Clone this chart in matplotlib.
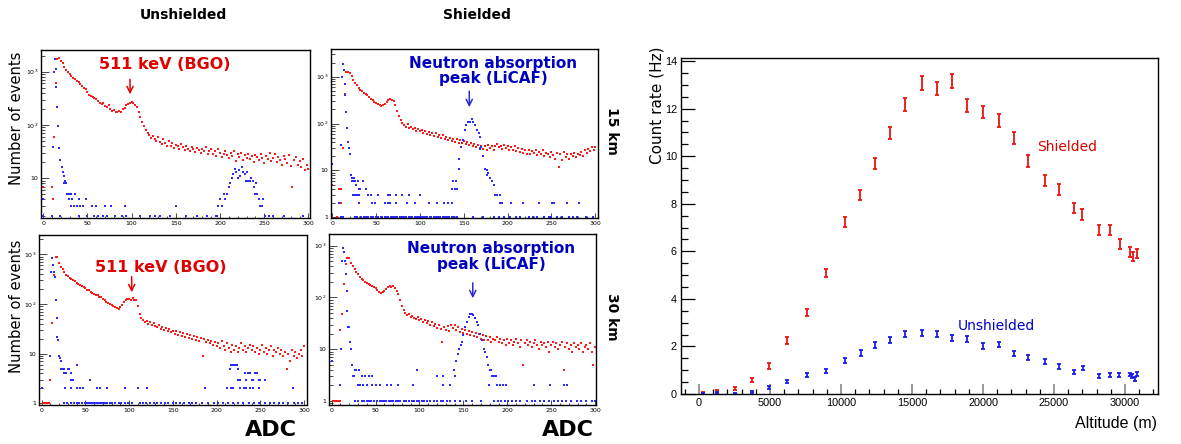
import matplotlib
matplotlib.use('Agg')
import matplotlib.pyplot as plt
from matplotlib.ticker import MultipleLocator, FixedLocator, LogLocator, FuncFormatter, NullFormatter
import numpy as np

# ---------------- spectra (ADC bins 10..300, step 2) ----------------
tl_red = [7, 60, 600, 1700, 1800, 1600, 1450, 1250, 1080, 980,
          900, 830, 770, 720, 670, 640, 590, 530, 500, 470,
          420, 370, 345, 330, 320, 310, 280, 262, 245, 258,
          228, 218, 232, 200, 182, 190, 172, 176, 185, 178,
          198, 210, 238, 252, 262, 275, 255, 238, 215, 172,
          140, 112, 95, 80, 70, 66, 58, 63, 54, 50,
          60, 48, 44, 55, 45, 41, 50, 40, 46, 37,
          43, 40, 36, 44, 38, 34, 41, 36, 33, 39,
          35, 31, 37, 34, 30, 36, 32, 38, 29, 33,
          35, 28, 32, 26, 36, 30, 25, 29, 33, 27,
          24, 30, 26, 32, 21, 28, 25, 30, 22, 27,
          24, 29, 23, 26, 20, 27, 25, 22, 28, 24,
          19, 26, 23, 30, 21, 24, 28, 20, 25, 22,
          18, 26, 23, 19, 27, 17, 7, 22, 25, 18,
          21, 16, 23, 14, 18, 15]
tr_red = [4, 30, 420, 1280, 1250, 1180, 1020, 870, 740, 650,
          580, 530, 490, 450, 430, 400, 375, 340, 315, 295,
          275, 258, 250, 243, 252, 265, 292, 318, 332, 325,
          305, 255, 185, 142, 118, 102, 94, 86, 96, 80,
          84, 75, 81, 70, 78, 68, 74, 63, 71, 60,
          66, 58, 64, 55, 62, 53, 58, 50, 56, 47,
          52, 45, 50, 43, 48, 41, 46, 39, 44, 38,
          42, 36, 40, 35, 38, 33, 37, 31, 35, 30,
          34, 29, 33, 28, 35, 30, 34, 28, 33, 36,
          31, 34, 29, 35, 30, 33, 27, 31, 28, 33,
          26, 30, 25, 29, 24, 27, 23, 28, 22, 26,
          24, 28, 21, 25, 22, 27, 20, 24, 23, 19,
          25, 21, 18, 24, 12, 22, 17, 25, 19, 23,
          18, 22, 20, 24, 19, 23, 21, 25, 20, 27,
          24, 29, 26, 31, 28, 32]
bl_red = [3, 41, 380, 900, 880, 680, 560, 500, 440, 385,
          360, 340, 320, 300, 285, 270, 255, 240, 225, 218,
          205, 195, 190, 178, 170, 160, 152, 148, 140, 135,
          128, 120, 112, 106, 100, 95, 90, 86, 82, 78,
          88, 95, 108, 118, 125, 128, 122, 130, 118, 122,
          90, 62, 52, 48, 44, 46, 40, 43, 38, 41,
          36, 34, 38, 31, 35, 30, 33, 28, 31, 27,
          29, 25, 28, 24, 27, 23, 26, 22, 25, 21,
          24, 20, 23, 19, 22, 18, 21, 9, 20, 17,
          19, 16, 18, 15, 17, 14, 16, 13, 18, 14,
          12, 16, 13, 11, 15, 12, 14, 11, 13, 16,
          12, 14, 11, 13, 15, 12, 14, 11, 13, 10,
          12, 15, 11, 13, 10, 12, 14, 9, 12, 11,
          13, 10, 12, 9, 11, 5, 10, 7, 12, 9,
          11, 8, 10, 12, 9, 14]
br_red = [24, 47, 180, 450, 590, 570, 460, 400, 350, 310,
          280, 250, 230, 215, 200, 190, 180, 172, 165, 160,
          150, 138, 128, 120, 125, 132, 148, 158, 165, 160,
          165, 150, 135, 115, 90, 70, 58, 50, 46, 48,
          42, 44, 40, 38, 42, 36, 38, 33, 36, 32,
          35, 30, 33, 28, 31, 26, 29, 25, 14, 27,
          24, 28, 23, 30, 26, 29, 24, 27, 22, 25,
          21, 24, 20, 23, 19, 22, 18, 21, 17, 20,
          16, 19, 15, 18, 15, 17, 14, 16, 15, 17,
          14, 16, 13, 15, 12, 16, 13, 15, 12, 14,
          16, 13, 11, 15, 5, 13, 15, 12, 14, 11,
          13, 15, 12, 10, 14, 12, 13, 11, 14, 9,
          12, 14, 11, 13, 10, 12, 14, 4, 11, 13,
          10, 12, 9, 13, 11, 12, 10, 13, 9, 11,
          12, 10, 13, 9, 5, 11]

tl_red_low = [(0, 7), (0, 4), (11, 4)]
tr_red_low = [(0, 5), (0, 1), (5, 1), (8, 4), (8, 2), (10, 2)]
bl_red_low = [(2, 1), (4, 1), (6, 1), (8, 1)]
br_red_low = [(2, 1), (4, 1), (6, 1), (8, 1), (10, 1)]

tl_blue = [(0, 4), (10, 2), (11, 38), (12, 1000), (13, 1700), (14, 1100), (15, 520), (16, 220),
           (17, 96), (18, 37), (19, 22), (21, 16), (22, 13), (23, 8), (24, 11), (25, 9), (26, 8),
           (27, 5), (28, 5), (29, 4), (30, 5), (31, 3), (32, 5), (33, 4), (35, 3), (36, 5), (38, 3),
           (40, 4), (42, 3), (45, 3), (48, 4), (55, 3), (60, 3), (70, 3), (77, 3), (92, 3), (150, 3),
           (196, 2), (198, 3), (200, 4), (202, 3), (204, 5), (206, 4), (208, 5), (210, 7), (211, 8),
           (213, 10), (215, 12), (217, 15), (218, 13), (220, 10), (221, 14), (223, 11), (225, 16),
           (226, 13), (228, 12), (229, 9), (231, 13), (232, 9), (234, 9), (235, 10), (237, 9),
           (238, 7), (240, 5), (241, 8), (242, 5), (244, 4), (245, 3), (247, 3), (249, 4), (251, 2)]
tr_blue = [(0, 14), (8, 2), (10, 35), (11, 1000), (12, 1900), (13, 1400), (14, 700), (15, 400),
           (16, 180), (17, 80), (18, 40), (19, 30), (20, 23), (21, 8), (22, 7), (23, 6), (24, 6),
           (25, 7), (26, 6), (27, 5), (29, 6), (30, 4), (32, 4), (35, 6), (38, 4), (41, 3), (24, 3),
           (26, 3), (28, 3), (30, 3), (44, 3), (52, 3), (63, 3), (66, 3), (73, 3), (80, 3), (87, 3),
           (100, 3), (136, 4), (138, 6), (140, 4), (141, 6), (142, 4), (144, 11), (145, 18),
           (147, 32), (149, 45), (151, 73), (153, 94), (155, 110), (157, 110), (159, 124),
           (161, 110), (163, 94), (165, 73), (167, 62), (168, 29), (169, 53), (170, 32), (172, 20),
           (174, 11), (176, 10), (177, 8), (178, 9), (180, 7), (182, 6), (184, 5), (186, 3),
           (188, 3), (191, 3)]
bl_blue = [(0, 2), (10, 9), (11, 450), (12, 830), (13, 610), (14, 450), (15, 355), (16, 120),
           (17, 51), (18, 22), (19, 19), (20, 9), (21, 8), (22, 7), (22, 5), (23, 5), (25, 5),
           (26, 4), (28, 4), (30, 5), (31, 5), (33, 4), (34, 3), (36, 3), (40, 6), (55, 3),
           (215, 5), (217, 6), (219, 6), (221, 6), (223, 6), (224, 5), (225, 3), (227, 3), (232, 4),
           (234, 3), (236, 4), (238, 4), (240, 3), (242, 3), (244, 4), (246, 4), (248, 3), (250, 3),
           (255, 3)]
br_blue = [(0, 6), (11, 10), (12, 500), (13, 890), (14, 770), (15, 500), (16, 280), (17, 133),
           (18, 55), (19, 27), (20, 27), (21, 14), (22, 10), (23, 5), (24, 3), (25, 3), (26, 4),
           (28, 4), (31, 4), (35, 3), (38, 3), (43, 3), (46, 3), (97, 4), (120, 3), (127, 3),
           (139, 4), (141, 3), (142, 6), (144, 8), (145, 10), (147, 12), (148, 14), (150, 19),
           (152, 27), (154, 34), (156, 42), (158, 49), (160, 49), (161, 46), (163, 40), (165, 34),
           (167, 29), (169, 20), (171, 15), (173, 10), (175, 9), (177, 7), (178, 5), (180, 4),
           (181, 4), (183, 3), (185, 3), (187, 3)]

# blue bins with exactly 2 and 1 counts
tl_blue_twos = [0, 19, 40, 49, 57, 62, 68, 72, 81, 89, 94, 110, 121, 126, 132, 143, 162, 174,
                185, 197, 255, 260, 272, 294]
tr_blue_twos = [31, 45, 49, 60, 63, 66, 73, 85, 94, 110, 119, 127, 132, 136, 191, 193, 204, 218,
                236, 251, 253, 268, 281]
bl_blue_twos = [0, 27, 34, 40, 44, 47, 63, 67, 75, 95, 110, 120, 187, 212, 216, 219, 227, 231,
                234, 238, 242, 248, 287]
br_blue_twos = [10, 30, 32, 36, 40, 46, 51, 55, 63, 68, 76, 93, 127, 135, 179, 188, 192, 195,
                199, 230, 249, 264, 268]
tl_blue_ones = []
tr_blue_ones = [10, 12, 26, 28, 33, 36, 39, 41, 44, 47, 50, 52, 55, 57, 60, 62, 64, 67, 69, 71,
                74, 77, 79, 82, 84, 87, 89, 91, 94, 97, 99, 101, 103, 106, 108, 111, 113, 116,
                118, 121, 123, 126, 128, 131, 133, 136, 139, 142, 160, 172, 185, 190, 196, 203,
                210, 214, 224, 229, 233, 241, 247, 250, 256, 262, 270, 274, 279, 289, 297]
bl_blue_ones = [26, 29, 33, 37, 40, 43, 46, 49, 51, 53, 55, 58, 60, 62, 64, 67, 69, 71, 73, 75,
                78, 80, 84, 88, 91, 95, 99, 103, 112, 116, 119, 124, 128, 132, 136, 141, 145,
                150, 154, 158, 163, 168, 172, 177, 183, 190, 197, 202, 207, 213, 219, 224, 230,
                237, 243, 249, 255, 261, 266, 271, 276, 282, 288, 293, 298]
br_blue_ones = [27, 30, 34, 37, 40, 42, 45, 48, 52, 55, 57, 60, 62, 65, 68, 70, 73, 76, 78, 82,
                85, 88, 92, 94, 97, 100, 103, 105, 108, 112, 116, 120, 124, 127, 131, 135, 140,
                146, 153, 160, 170, 185, 189, 193, 197, 201, 205, 210, 214, 222, 228, 232, 237,
                242, 247, 253, 258, 262, 267, 272, 279, 284, 290, 296, 300]

# ---------------- count rate vs altitude ----------------
alt_shielded = [280, 1290, 2510, 3700, 4930, 6220, 7580, 8965, 10250, 11360, 12415, 13450, 14530,
                15700, 16730, 17840, 18895, 20000, 21125, 22205, 23140, 24380, 25350, 26410,
                26990, 28170, 28915, 29620, 30350, 30560, 30820]
rate_shielded = [0.03, 0.10, 0.23, 0.60, 1.17, 2.24, 3.43, 5.10, 7.25, 8.36, 9.69, 10.96, 12.17,
                 13.08, 12.84, 13.16, 12.14, 11.86, 11.50, 10.75, 9.81, 8.97, 8.61, 7.82, 7.54,
                 6.88, 6.88, 6.32, 5.97, 5.79, 5.91]
err_shielded = [0.04, 0.05, 0.07, 0.09, 0.12, 0.14, 0.15, 0.17, 0.21, 0.22, 0.24, 0.25, 0.27,
                0.28, 0.28, 0.28, 0.27, 0.26, 0.26, 0.25, 0.25, 0.24, 0.24, 0.22, 0.22, 0.21,
                0.21, 0.21, 0.20, 0.20, 0.20]
alt_unshielded = [280, 1290, 2510, 3700, 4930, 6220, 7580, 8965, 10300, 11400, 12415, 13450,
                  14530, 15700, 16750, 17800, 18895, 20000, 21150, 22205, 23160, 24380, 25350,
                  26410, 27040, 28170, 28915, 29600, 30330, 30520, 30680, 30870]
rate_unshielded = [0.01, 0.05, 0.03, 0.10, 0.29, 0.53, 0.79, 0.97, 1.41, 1.72, 2.06, 2.28, 2.54,
                   2.56, 2.51, 2.37, 2.30, 2.03, 2.08, 1.70, 1.55, 1.37, 1.15, 0.94, 1.10, 0.77,
                   0.79, 0.79, 0.82, 0.76, 0.63, 0.85]
err_unshielded = [0.02, 0.03, 0.03, 0.04, 0.06, 0.07, 0.08, 0.08, 0.10, 0.11, 0.12, 0.13, 0.13,
                  0.13, 0.13, 0.13, 0.13, 0.12, 0.12, 0.11, 0.11, 0.10, 0.10, 0.09, 0.09, 0.08,
                  0.08, 0.08, 0.08, 0.08, 0.08, 0.08]

RED = '#ff1a1a'
BLUE = '#2a2aff'
W, H = 1181.0, 444.0

fig = plt.figure(figsize=(11.81, 4.44), dpi=100)


def box(left, top, right, bottom):
    # pixel box -> figure fraction rect
    return [left / W, 1 - bottom / H, (right - left) / W, (bottom - top) / H]


def log_label(v, pos):
    if v < 5:
        return '1'
    if v < 50:
        return '10'
    return r'$10^{%d}$' % int(round(np.log10(v)))


def spectrum(rect, red, red_low, blue, twos, ones, xlim, ylim):
    ax = fig.add_axes(rect)
    rx = 10 + 2 * np.arange(len(red))
    mk = dict(ls='none', marker='s', ms=2.0, mew=0)
    ax.plot(rx, red, color=RED, **mk)
    ax.plot([p[0] for p in red_low], [p[1] for p in red_low], color=RED, **mk)
    ax.plot([p[0] for p in blue], [p[1] for p in blue], color=BLUE, **mk)
    ax.plot(twos, [2] * len(twos), color=BLUE, **mk)
    ax.plot(ones, [1] * len(ones), color=BLUE, **mk)
    ax.set_yscale('log')
    ax.set_xlim(*xlim)
    ax.set_ylim(*ylim)
    ax.xaxis.set_major_locator(MultipleLocator(50))
    ax.xaxis.set_minor_locator(MultipleLocator(10))
    ax.yaxis.set_major_locator(FixedLocator([1, 10, 100, 1000]))
    ax.yaxis.set_minor_locator(LogLocator(subs=np.arange(2, 10)))
    ax.yaxis.set_major_formatter(FuncFormatter(log_label))
    ax.yaxis.set_minor_formatter(NullFormatter())
    ax.tick_params(which='both', direction='in', labelsize=4.5, pad=2, width=0.5)
    ax.tick_params(axis='y', which='major', length=5.5)
    ax.tick_params(axis='y', which='minor', length=2.8)
    ax.tick_params(axis='x', which='major', length=3.6)
    ax.tick_params(axis='x', which='minor', length=1.8)
    for s in ax.spines.values():
        s.set_linewidth(1.0)
    return ax


ax_tl = spectrum(box(41, 50, 310, 218.5), tl_red, tl_red_low, tl_blue, tl_blue_twos, tl_blue_ones,
                 (-2.5, 301.8), (1.76, 2550))
ax_tr = spectrum(box(330.7, 49, 597.7, 218.3), tr_red, tr_red_low, tr_blue, tr_blue_twos,
                 tr_blue_ones, (-1.8, 302.7), (0.955, 3900))
ax_bl = spectrum(box(39.3, 235, 306.7, 405), bl_red, bl_red_low, bl_blue, bl_blue_twos,
                 bl_blue_ones, (-2.7, 303), (0.92, 2450))
ax_br = spectrum(box(329.3, 234.3, 596, 405), br_red, br_red_low, br_blue, br_blue_twos,
                 br_blue_ones, (-2.7, 301), (0.84, 1660))

# annotations
for ax, tx, ty, axx, y0, y1 in [(ax_tl, 0.461, 0.911, 0.331, 0.842, 0.721),
                                (ax_bl, 0.453, 0.81, 0.3455, 0.771, 0.647)]:
    ax.text(tx, ty, '511 keV (BGO)', transform=ax.transAxes, ha='center', va='center',
            color='#e00000', fontsize=11.5, fontweight='bold')
    ax.annotate('', xy=(axx, y1), xytext=(axx, y0), xycoords='axes fraction',
                arrowprops=dict(arrowstyle='->', color='#e00000', lw=1.1, mutation_scale=11))

for ax, tx, ty, axx, y0, y1 in [(ax_tr, 0.608, 0.870, 0.519, 0.768, 0.640),
                                (ax_br, 0.606, 0.869, 0.538, 0.732, 0.609)]:
    ax.text(tx, ty, 'Neutron absorption\npeak (LiCAF)', transform=ax.transAxes, ha='center',
            va='center', color='#0000c0', fontsize=11, fontweight='bold', linespacing=1.05)
    ax.annotate('', xy=(axx, y1), xytext=(axx, y0), xycoords='axes fraction',
                arrowprops=dict(arrowstyle='->', color='#2a2ad8', lw=1.1, mutation_scale=11))

fig.text(183 / W, 1 - 15 / H, 'Unshielded', ha='center', va='center', fontsize=10, fontweight='bold')
fig.text(476.7 / W, 1 - 15 / H, 'Shielded', ha='center', va='center', fontsize=10, fontweight='bold')
fig.text(611.7 / W, 1 - 131 / H, '15 km', ha='center', va='center', rotation=270, fontsize=10,
         fontweight='bold')
fig.text(611.7 / W, 1 - 316.7 / H, '30 km', ha='center', va='center', rotation=270, fontsize=10,
         fontweight='bold')
for yc in (118, 306.7):
    fig.text(17 / W, 1 - yc / H, 'Number of events', ha='center', va='center', rotation=90,
             fontsize=10.6)
for xc in (270.5, 568):
    fig.text(xc / W, 1 - 430 / H, 'ADC', ha='center', va='center', fontsize=16, fontweight='bold')

# ---------------- right panel ----------------
ax2 = fig.add_axes(box(681, 58, 1158, 394))
eb = dict(fmt='none', elinewidth=1.3, capsize=1.6, capthick=1.3)
ax2.errorbar(alt_shielded, rate_shielded, yerr=err_shielded, ecolor='#ee1111', **eb)
ax2.errorbar(alt_unshielded, rate_unshielded, yerr=err_unshielded, ecolor='#1a1aee', **eb)
ax2.set_xlim(-1268, 32324)
ax2.set_ylim(0, 14.13)
ax2.xaxis.set_major_locator(MultipleLocator(5000))
ax2.xaxis.set_minor_locator(MultipleLocator(1000))
ax2.yaxis.set_major_locator(MultipleLocator(2))
ax2.yaxis.set_minor_locator(MultipleLocator(0.5))
ax2.tick_params(which='both', direction='in', labelsize=7.8, pad=3)
ax2.tick_params(axis='y', which='major', length=10.3, width=0.9)
ax2.tick_params(axis='y', which='minor', length=5, width=0.9)
ax2.tick_params(axis='x', which='major', length=7.2, width=1.4, color='0.6')
ax2.tick_params(axis='x', which='minor', length=3.6, width=0.9)
for lab in ax2.get_xticklabels() + ax2.get_yticklabels():
    lab.set_fontfamily('Liberation Sans')
for s in ax2.spines.values():
    s.set_linewidth(1.0)
ax2.text(25915, 10.38, 'Shielded', color='#dd0000', fontsize=10, ha='center', va='center')
ax2.text(20950, 2.86, 'Unshielded', color='#0000cc', fontsize=10, ha='center', va='center')
fig.text(657 / W, 1 - 105.5 / H, 'Count rate (Hz)', rotation=90, ha='center', va='center',
         fontsize=11)
fig.text(1157 / W, 1 - 423 / H, 'Altitude (m)', ha='right', va='center', fontsize=11.5,
         family='Liberation Sans')

fig.savefig('out.png', dpi=100)
